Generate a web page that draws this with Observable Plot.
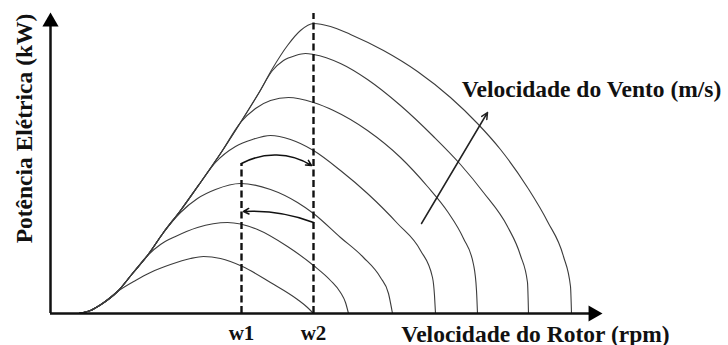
<!DOCTYPE html>
<html><head><meta charset="utf-8">
<script src="https://cdn.jsdelivr.net/npm/d3@7"></script>
<script src="https://cdn.jsdelivr.net/npm/@observablehq/plot@0.6"></script>
<style>body{margin:0;background:#fff} #chart svg{display:block}</style>
</head><body><div id="chart"></div>
<script>
// Schematic units: x = rotor speed, y = electric power
const envelope = [[28,0],[40,3],[52,10],[67,22],[82,40],[97,58],[113,81],[130,103],[150,131],[170,160],[190,191],[208,220],[222,245],[237,268],[250,283],[263,290]];
// for each wind speed: how many envelope points it shares, then its own branch
const forks = [4, 6, 7, 9, 11, 12, 16];
const tail1 = [[85,33],[100,41],[120,49],[140,55],[153,57],[170,55],[192,47],[220,31],[247,14],[257,6],[263,0]];
const tail2 = [[110,69],[125,77],[147,86],[177,91],[207,84],[237,67],[263,48],[280,33],[290,21],[295,11],[298,0]];
const tail3 = [[130,101],[147,115],[165,124],[190,130],[220,124],[247,111],[263,100],[290,76],[313,56],[330,36],[338,20],[342,0]];
const tail4 = [[165,151],[185,167],[202,174],[220,178],[240,174],[263,163],[290,143],[317,120],[347,90],[370,63],[382,36],[384,18],[385,0]];
const tail5 = [[205,205],[220,213],[238,216],[263,211],[283,203],[317,183],[350,156],[377,127],[397,102],[413,75],[423,49],[426,23],[427,0]];
const tail6 = [[222,243],[233,253],[245,258],[255,260],[263,259],[290,250],[317,234],[350,208],[383,177],[410,149],[433,121],[457,87],[470,58],[477,31],[478,0]];
const tail7 = [[280,287],[300,279],[333,263],[367,242],[400,216],[427,190],[450,164],[477,126],[497,92],[513,57],[520,27],[521,0]];
const tails = [tail1, tail2, tail3, tail4, tail5, tail6, tail7];

const tickPositions = [191, 263];
const tickLabels = ["w1", "w2"];
const dashTops = [150, 300];
// transition arrows between w1 and w2
const upArc = [{x1: 191, y1: 150, x2: 261, y2: 148}];
const downArc = [{x1: 263, y1: 91, x2: 193, y2: 102}];
const windArrow = [{x1: 371, y1: 90, x2: 437, y2: 201}];
const axisEnds = {x: 552, y: 301};

const xTitle = "Velocidade do Rotor (rpm)";
const yTitle = "Potência Elétrica (kW)";
const windTitle = "Velocidade do Vento (m/s)";

const lines = tails.flatMap((t, i) =>
  envelope.slice(0, forks[i]).concat(t).map(([x, y]) => ({curve: i, x, y})));
const dashes = tickPositions.map((x, i) => ({x, top: dashTops[i]}));

const font = "Liberation Serif";
const chart = Plot.plot({
  width: 728, height: 345,
  marginLeft: 50, marginRight: 0, marginTop: 0, marginBottom: 32,
  x: {domain: [0, 678], axis: null},
  y: {domain: [0, 313], axis: null},
  style: {fontFamily: font, background: "white", color: "#111"},
  marks: [
    Plot.line(lines, {x: "x", y: "y", z: "curve", curve: "monotone-x", stroke: "#3c3c3c", strokeWidth: 1.1}),
    Plot.ruleX(dashes, {x: "x", y1: 0, y2: "top", stroke: "#111", strokeWidth: 2.4, strokeDasharray: "7,3.5"}),
    Plot.arrow(upArc, {x1: "x1", y1: "y1", x2: "x2", y2: "y2", bend: 30, stroke: "#111", strokeWidth: 1.5, headLength: 6, headAngle: 55}),
    Plot.arrow(downArc, {x1: "x1", y1: "y1", x2: "x2", y2: "y2", bend: -12, stroke: "#111", strokeWidth: 1.5, headLength: 6, headAngle: 55}),
    Plot.arrow(windArrow, {x1: "x1", y1: "y1", x2: "x2", y2: "y2", stroke: "#222", strokeWidth: 1.5, headLength: 7, headAngle: 50}),
    Plot.ruleX([0], {y1: 0, y2: axisEnds.y - 10, stroke: "#111", strokeWidth: 2.5}),
    Plot.ruleY([0], {x1: 0, x2: axisEnds.x - 10, stroke: "#111", strokeWidth: 2.5}),
    Plot.dot([axisEnds], {x: 0, y: "y", symbol: "triangle", r: 6, fill: "#000", stroke: "none", dy: 9.3}),
    Plot.dot([axisEnds], {x: "x", y: 0, symbol: "triangle", r: 6, fill: "#000", stroke: "none", rotate: 90, dx: -9.3}),
    Plot.axisX({ticks: tickPositions, tickFormat: d => tickLabels[tickPositions.indexOf(d)], tickSize: 0, tickPadding: 12, fontSize: 21, fontWeight: "bold", fontFamily: font, label: null}),
    Plot.text([xTitle], {x: 485, y: -28, text: d => d, fontSize: 23.5, fontWeight: "bold", fontFamily: font, textAnchor: "middle", lineAnchor: "bottom"}),
    Plot.text([windTitle], {x: 541, y: 217, text: d => d, fontSize: 23.5, fontWeight: "bold", fontFamily: font, textAnchor: "middle", lineAnchor: "bottom"}),
    Plot.text([yTitle], {x: -19, y: 185, text: d => d, fontSize: 23.5, fontWeight: "bold", fontFamily: font, rotate: -90, textAnchor: "middle", lineAnchor: "bottom"})
  ]
});
document.getElementById("chart").append(chart);
</script>
</body></html>
